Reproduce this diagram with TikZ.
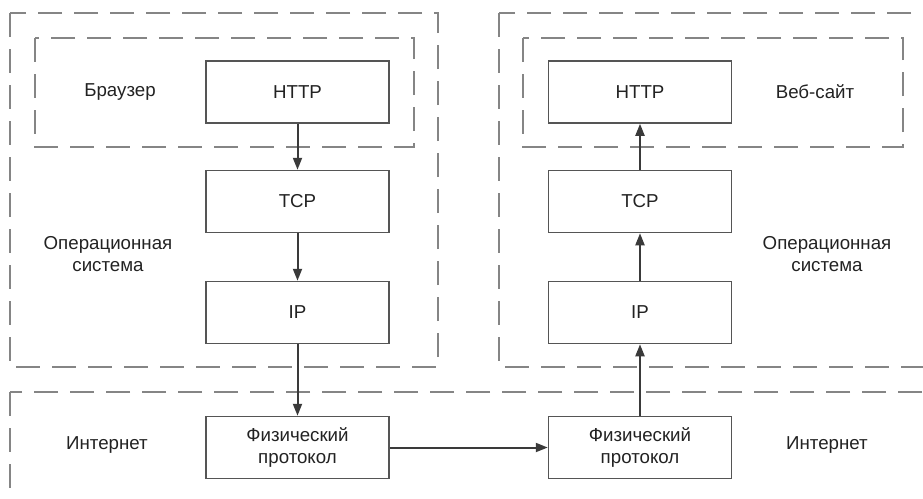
\documentclass[tikz,border=0pt]{standalone}
\usepackage{fontspec}
\setmainfont{Liberation Sans}
\usetikzlibrary{arrows.meta}
\definecolor{framegray}{HTML}{858585}
\definecolor{boxgray}{HTML}{555555}
\definecolor{arrowgray}{HTML}{3A3A3A}
\definecolor{textgray}{HTML}{222222}

\begin{document}
\begin{tikzpicture}[x=1pt,y=-1pt,
% dashed zones, layer boxes, plain labels
zone/.style={draw=framegray, line width=1.5pt, dash pattern=on 24pt off 12pt},
layer/.style={draw=boxgray, line width=1.5pt, fill=white, minimum width=183pt,
    minimum height=62pt, align=center, text=textgray, font=\fontsize{18.7}{22}\selectfont},
caption/.style={align=center, text=textgray, font=\fontsize{18.7}{22}\selectfont},
flow/.style={draw=arrowgray, line width=2pt,
    -{Triangle[length=12pt,width=9pt]}}]
\useasboundingbox (0,0) rectangle (923,498);
\clip (0,0) rectangle (923,498);
% zones
\draw[zone] (10,13) rectangle (438,367);
\draw[zone] (35,38) rectangle (414,147);
\draw[zone] (499,13) rectangle (945,367);
\draw[zone] (523,38) rectangle (903,147);
\draw[zone] (10,392) rectangle (945,525);
% sender stack
\node[layer] (httpA) at (297.5,92) {HTTP};
\node[layer] (tcpA) at (297.5,201.5) {TCP};
\node[layer] (ipA) at (297.5,312.5) {IP};
\node[layer] (physA) at (297.5,447.5) {Физический\\протокол};
% receiver stack
\node[layer] (httpB) at (640,92) {HTTP};
\node[layer] (tcpB) at (640,201.5) {TCP};
\node[layer] (ipB) at (640,312.5) {IP};
\node[layer] (physB) at (640,447.5) {Физический\\протокол};
% annotations
\node[caption] (browser) at (120,92) {Браузер};
\node[caption] (osA) at (108,254) {Операционная\\система};
\node[caption] (netA) at (107,445) {Интернет};
\node[caption] (site) at (815,92) {Веб-сайт};
\node[caption] (osB) at (827,254) {Операционная\\система};
\node[caption] (netB) at (827,445) {Интернет};
% arrows
\draw[flow] (httpA) -- (tcpA);
\draw[flow] (tcpA) -- (ipA);
\draw[flow] (ipA) -- (physA);
\draw[flow] (physA) -- (physB);
\draw[flow] (physB) -- (ipB);
\draw[flow] (ipB) -- (tcpB);
\draw[flow] (tcpB) -- (httpB);
\end{tikzpicture}
\end{document}
